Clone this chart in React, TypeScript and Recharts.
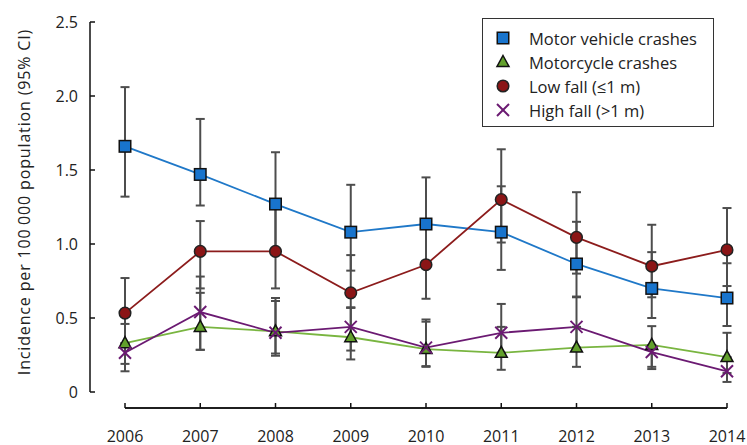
import { LineChart, Line, XAxis, YAxis, ErrorBar } from 'recharts'

const YEARS = ['2006', '2007', '2008', '2009', '2010', '2011', '2012', '2013', '2014']

// incidence per 100 000, point estimate + 95% CI bounds
const MOTOR_VEHICLE = [1.66, 1.47, 1.27, 1.08, 1.135, 1.08, 0.865, 0.7, 0.635]
const MOTOR_VEHICLE_LOW = [1.32, 1.26, 0.95, 0.82, 0.86, 0.825, 0.64, 0.5, 0.446]
const MOTOR_VEHICLE_HIGH = [2.06, 1.845, 1.62, 1.4, 1.45, 1.39, 1.15, 0.945, 0.87]

const MOTORCYCLE = [0.33, 0.44, 0.41, 0.37, 0.29, 0.265, 0.3, 0.318, 0.236]
const MOTORCYCLE_LOW = [0.19, 0.285, 0.245, 0.22, 0.175, 0.15, 0.17, 0.17, 0.128]
const MOTORCYCLE_HIGH = [0.46, 0.67, 0.635, 0.57, 0.475, 0.44, 0.44, 0.445, 0.4]

const LOW_FALL = [0.533, 0.95, 0.95, 0.67, 0.86, 1.3, 1.045, 0.85, 0.96]
const LOW_FALL_LOW = [0.33, 0.7, 0.7, 0.57, 0.63, 1.01, 0.8, 0.64, 0.716]
const LOW_FALL_HIGH = [0.77, 1.155, 1.27, 0.925, 1.135, 1.64, 1.35, 1.13, 1.243]

const HIGH_FALL = [0.265, 0.54, 0.4, 0.44, 0.3, 0.4, 0.44, 0.27, 0.14]
const HIGH_FALL_LOW = [0.14, 0.285, 0.26, 0.28, 0.17, 0.265, 0.3, 0.155, 0.068]
const HIGH_FALL_HIGH = [0.33, 0.78, 0.615, 0.57, 0.49, 0.595, 0.645, 0.318, 0.236]

const Y_TICKS = [0, 0.5, 1, 1.5, 2, 2.5]

const FONT = '"Open Sans", sans-serif'
const TEXT = '#222'
const AXIS = '#111'
const WHISKER = '#4d4d4d'

// layout
const CHART_W = 747
const CHART_H = 445
const MARGIN_TOP = 22
const MARGIN_RIGHT = 20
const Y_AXIS_W = 90
const Y_PAD_W = 35
const X_AXIS_H = 37
const X_PAD_H = 16
const X_TICK_MARGIN = 22.5

// axis ids: "a-pad" ends up next to the plot, "z-main" outside it
const MAIN = 'z-main'
const PAD = 'a-pad'

type Marker = 'square' | 'triangle' | 'circle' | 'cross'

interface SeriesDef {
  key: string
  name: string
  line: string
  fill: string
  marker: Marker
  values: number[]
  low: number[]
  high: number[]
}

const SERIES: SeriesDef[] = [
  { key: 'mv', name: 'Motor vehicle crashes', line: '#1f78c8', fill: '#1874cd', marker: 'square', values: MOTOR_VEHICLE, low: MOTOR_VEHICLE_LOW, high: MOTOR_VEHICLE_HIGH },
  { key: 'mc', name: 'Motorcycle crashes', line: '#79b540', fill: '#62a02c', marker: 'triangle', values: MOTORCYCLE, low: MOTORCYCLE_LOW, high: MOTORCYCLE_HIGH },
  { key: 'lf', name: 'Low fall (≤1 m)', line: '#8c1c1c', fill: '#8b1516', marker: 'circle', values: LOW_FALL, low: LOW_FALL_LOW, high: LOW_FALL_HIGH },
  { key: 'hf', name: 'High fall (>1 m)', line: '#6b1a72', fill: '#6b1a72', marker: 'cross', values: HIGH_FALL, low: HIGH_FALL_LOW, high: HIGH_FALL_HIGH },
]

const data = YEARS.map((year, i) => {
  const row: Record<string, unknown> = { year }
  for (const s of SERIES) {
    row[s.key] = s.values[i]
    row[`${s.key}Err`] = [s.values[i] - s.low[i], s.high[i] - s.values[i]]
  }
  return row
})

function MarkerShape({ kind, cx, cy, fill }: { kind: Marker; cx: number; cy: number; fill: string }) {
  if (kind === 'square') {
    return <rect x={cx - 5.75} y={cy - 5.75} width={11.5} height={11.5} fill={fill} stroke="#111" strokeWidth={1.5} />
  }
  if (kind === 'triangle') {
    return (
      <polygon
        points={`${cx},${cy - 6.5} ${cx + 6},${cy + 4.5} ${cx - 6},${cy + 4.5}`}
        fill={fill}
        stroke="#111"
        strokeWidth={1.5}
      />
    )
  }
  if (kind === 'circle') {
    return <circle cx={cx} cy={cy} r={5.8} fill={fill} stroke="#222" strokeWidth={1.5} />
  }
  return (
    <g stroke={fill} strokeWidth={2}>
      <line x1={cx - 6} y1={cy - 6} x2={cx + 6} y2={cy + 6} />
      <line x1={cx - 6} y1={cy + 6} x2={cx + 6} y2={cy - 6} />
    </g>
  )
}

function LegendIcon({ kind, fill }: { kind: Marker; fill: string }) {
  return (
    <svg width={16} height={16} style={{ display: 'block' }}>
      <MarkerShape kind={kind} cx={8} cy={8} fill={fill} />
    </svg>
  )
}

type Box = { x: number; y: number; width: number; height: number }

function YLabel({ viewBox }: { viewBox?: Box }) {
  if (!viewBox) return null
  const x = viewBox.x + 24
  const y = viewBox.y + viewBox.height / 2 - 5
  return (
    <text
      transform={`translate(${x},${y}) rotate(-90)`}
      textAnchor="middle"
      dominantBaseline="central"
      fill={TEXT}
      fontSize={16}
      letterSpacing={0.85}
      fontFamily={FONT}
    >
      Incidence per 100&#8201;000 population (95% CI)
    </text>
  )
}

function YearTick({ x = 0, y = 0, payload }: { x?: number; y?: number; payload?: { value: string } }) {
  return (
    <text x={x} y={y} dy="0.71em" textAnchor="middle" fill={TEXT} fontSize={16} fontFamily={FONT}>
      {payload?.value}
    </text>
  )
}

// Offset bottom spine with inward ticks. The axis' own line never showed up
// below the spacer axis, so it is laid over the chart here.
function BottomSpine() {
  const left = Y_AXIS_W + Y_PAD_W
  const right = CHART_W - MARGIN_RIGHT
  const y = CHART_H - X_AXIS_H
  const step = (right - left) / (YEARS.length - 1)
  return (
    <svg
      width={CHART_W}
      height={CHART_H}
      style={{ position: 'absolute', left: 0, top: 0, pointerEvents: 'none' }}
    >
      <line x1={left} y1={y} x2={right} y2={y} stroke={AXIS} strokeWidth={1.5} />
      {YEARS.map((year, i) => (
        <line key={year} x1={left + i * step} y1={y} x2={left + i * step} y2={y - 5} stroke={AXIS} strokeWidth={1.5} />
      ))}
    </svg>
  )
}

export default function App() {
  return (
    <div style={{ position: 'absolute', left: 0, top: 0, width: CHART_W, height: CHART_H, background: '#fff', fontFamily: FONT }}>
      <LineChart width={CHART_W} height={CHART_H} data={data} margin={{ top: MARGIN_TOP, right: MARGIN_RIGHT, bottom: 0, left: 0 }}>
        <XAxis
          xAxisId={MAIN}
          dataKey="year"
          height={X_AXIS_H}
          interval={0}
          tickSize={0}
          tickMargin={X_TICK_MARGIN}
          axisLine={{ stroke: AXIS, strokeWidth: 1.5 }}
          tickLine={false}
          tick={<YearTick />}
        />
        {/* spacer axes push the real ones away from the plot, like offset spines */}
        <XAxis xAxisId={PAD} dataKey="year" height={X_PAD_H} tick={false} axisLine={false} tickLine={false} />
        <YAxis
          yAxisId={MAIN}
          width={Y_AXIS_W}
          domain={[0, 2.5]}
          ticks={Y_TICKS}
          tickSize={-5}
          tickMargin={17}
          tickFormatter={(v: number) => (v === 0 ? '0' : v.toFixed(1))}
          axisLine={{ stroke: AXIS, strokeWidth: 1.5 }}
          tickLine={{ stroke: AXIS, strokeWidth: 1.5 }}
          tick={{ fill: TEXT, fontSize: 16, fontFamily: FONT }}
          label={{ content: <YLabel /> }}
        />
        <YAxis yAxisId={PAD} width={Y_PAD_W} domain={[0, 2.5]} tick={false} axisLine={false} tickLine={false} />

        {SERIES.map((s) => (
          <Line
            key={`${s.key}-line`}
            xAxisId={MAIN}
            yAxisId={MAIN}
            dataKey={s.key}
            stroke={s.line}
            strokeWidth={1.8}
            dot={false}
            activeDot={false}
            legendType="none"
            isAnimationActive={false}
          />
        ))}
        {SERIES.map((s) => (
          <Line
            key={`${s.key}-ci`}
            xAxisId={MAIN}
            yAxisId={MAIN}
            dataKey={s.key}
            stroke="none"
            dot={false}
            activeDot={false}
            legendType="none"
            isAnimationActive={false}
          >
            <ErrorBar dataKey={`${s.key}Err`} direction="y" width={4.5} stroke={WHISKER} strokeWidth={2} isAnimationActive={false} />
          </Line>
        ))}
        {SERIES.map((s) => (
          <Line
            key={`${s.key}-marker`}
            xAxisId={MAIN}
            yAxisId={MAIN}
            dataKey={s.key}
            name={s.name}
            stroke="none"
            activeDot={false}
            isAnimationActive={false}
            dot={(p: { cx?: number; cy?: number; index?: number }) => (
              <MarkerShape key={`${s.key}-${p.index}`} kind={s.marker} cx={p.cx ?? 0} cy={p.cy ?? 0} fill={s.fill} />
            )}
          />
        ))}
      </LineChart>

      <BottomSpine />

      <div
        style={{
          position: 'absolute',
          left: 482,
          top: 18,
          width: 232,
          height: 109,
          boxSizing: 'border-box',
          border: '1.5px solid #333',
          background: '#fff',
          paddingTop: 7,
        }}
      >
        {SERIES.map((s) => (
          <div key={s.key} style={{ display: 'flex', alignItems: 'center', height: 24, fontSize: 16.5, color: TEXT }}>
            <span style={{ width: 16, marginLeft: 12, marginRight: 18 }}>
              <LegendIcon kind={s.marker} fill={s.fill} />
            </span>
            <span style={{ whiteSpace: 'nowrap' }}>{s.name}</span>
          </div>
        ))}
      </div>
    </div>
  )
}
